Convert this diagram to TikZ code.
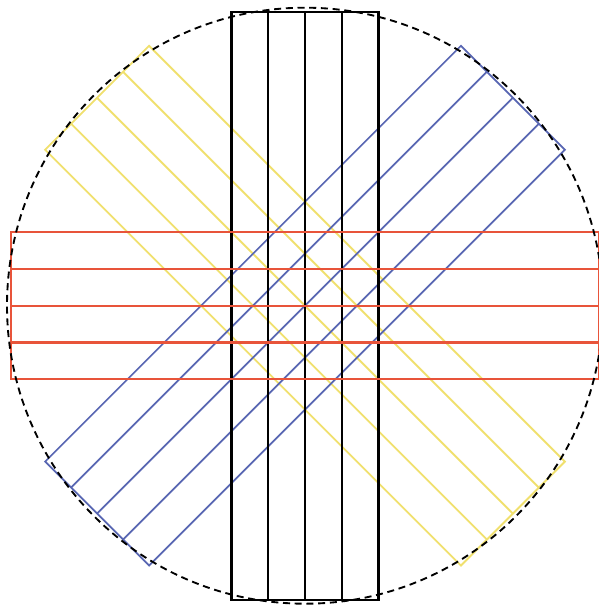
\documentclass[tikz,border=0pt]{standalone}
\usepackage{xcolor}
\usepackage{tikz}

\definecolor{stripRed}{RGB}{232,84,58}
\definecolor{stripBlue}{RGB}{88,102,178}
\definecolor{stripYellow}{RGB}{240,224,110}

\begin{document}
\begin{tikzpicture}[x=0.03cm,y=0.03cm,
  band/.style={line width=1.6pt},
  rim/.style={dashed,line width=1.6pt,dash pattern=on 6pt off 4pt}]
\useasboundingbox (0,0) rectangle (599,608);
\coordinate (ctr) at (305,302.3);
% four strips of four lanes each, rotated about the centre
\foreach \ang/\col/\lw in {-45/stripYellow/1.6pt,45/stripBlue/1.5pt,90/black/1.8pt,0/stripRed/1.9pt}{
  \begin{scope}[shift={(ctr)},rotate=\ang,band,draw=\col,line width=\lw]
    \draw (-294,-73.5) rectangle (294,73.5);
    \foreach \y in {-36.75,0,36.75}
      \draw (-294,\y) -- (294,\y);
  \end{scope}
}
\draw[rim] (ctr) circle (298);
\end{tikzpicture}
\end{document}
